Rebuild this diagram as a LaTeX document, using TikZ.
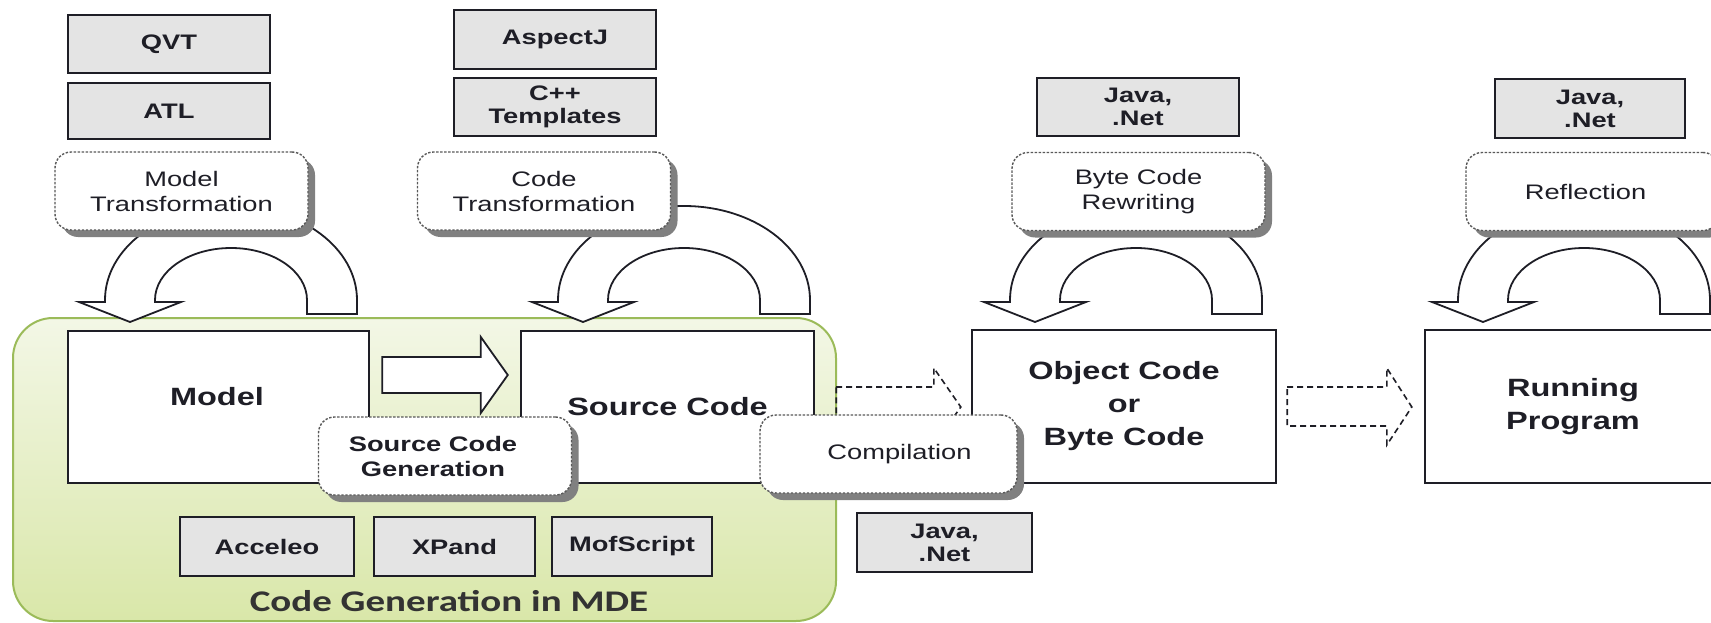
\documentclass[tikz,border=0pt]{standalone}
\usepackage{fontspec}
\setmainfont{Liberation Sans}
\newfontfamily\widesans[FakeStretch=1.3]{Liberation Sans}
\newfontfamily\widecal[FakeStretch=1.3]{Carlito}
\usetikzlibrary{calc,shadows}

\definecolor{mdetop}{HTML}{F3F7E6}
\definecolor{mdebot}{HTML}{D9E7A9}
\definecolor{mdeline}{HTML}{9BBB59}
\definecolor{toolfill}{HTML}{E4E4E4}
\definecolor{inkc}{HTML}{1E1E26}

\tikzset{
  tool/.style={draw=inkc, line width=2.2pt, fill=toolfill, inner sep=0pt, align=center,
    font=\widesans\bfseries\fontsize{21}{23}\selectfont, text=inkc},
  stage/.style={draw=inkc, line width=2.4pt, fill=white, inner sep=0pt, align=center,
    font=\widesans\bfseries\fontsize{25}{33}\selectfont, text=inkc},
  stagetext/.style={inner sep=0pt, font=\widesans\bfseries\fontsize{25}{33}\selectfont, text=inkc},
  technique/.style={rounded corners=16pt, draw=black!65, dash pattern=on 2.4pt off 1.6pt,
    line width=1.4pt, fill=white, inner sep=0pt, align=center,
    minimum width=253pt, minimum height=78pt,
    font=\widesans\fontsize{21}{25}\selectfont, text=inkc,
    drop shadow={shadow xshift=7pt, shadow yshift=-7pt, fill=black!50, opacity=1}},
  uarrow/.style={draw=inkc, line width=1.8pt, fill=white, line join=miter},
  blockarrow/.style={draw=inkc, line width=1.8pt, fill=white},
  flowarrow/.style={draw=inkc, line width=1.6pt, dash pattern=on 6pt off 4pt},
  mde/.style={rounded corners=40pt, draw=mdeline, line width=2pt,
    top color=mdetop, bottom color=mdebot, inner sep=0pt},
  uturn/.pic={
    \draw[uarrow] (126,14) -- (126,0)
      .. controls (126,-51.9) and (69.6,-94) .. (0,-94)
      .. controls (-69.6,-94) and (-126,-51.9) .. (-126,0)
      -- (-126,2) -- (-152,2) -- (-101,22) -- (-50,2) -- (-76,2) -- (-76,0)
      .. controls (-76,-28.7) and (-42,-52) .. (0,-52)
      .. controls (42,-52) and (76,-28.7) .. (76,0)
      -- (76,14) -- cycle;
  },
}

\begin{document}
\begin{tikzpicture}[x=1pt,y=-1pt]
\useasboundingbox (0,0) rectangle (1711,623);

% model-driven code generation area
\node[mde, minimum width=823pt, minimum height=303pt] (mde) at (424.5,469.5) {};
\node[anchor=base, inner sep=0pt, text=black!80,
      font=\widecal\bfseries\fontsize{30}{30}\selectfont] (mdelabel) at (449,611) {Code Generation in MDE};

% loop arrows of the transformation steps
\pic (loopmodel)  at (231,300)  {uturn};
\pic (loopsource) at (684,300)  {uturn};
\pic (loopobject) at (1136,300) {uturn};
\pic (looprun)    at (1584,300) {uturn};

% tools
\node[tool, minimum width=202pt, minimum height=58pt] (qvt)     at (169,44)     {QVT};
\node[tool, minimum width=202pt, minimum height=56pt] (atl)     at (169,111)    {ATL};
\node[tool, minimum width=202pt, minimum height=59pt] (aspectj) at (555,39.5)   {AspectJ};
\node[tool, minimum width=202pt, minimum height=58pt] (cpp)     at (555,107)    {C++\\Templates};
\node[tool, minimum width=202pt, minimum height=58pt] (javarw)  at (1138,107)   {Java,\\.Net};
\node[tool, minimum width=190pt, minimum height=59pt] (javarf)  at (1590,108.5) {Java,\\.Net};
\node[tool, minimum width=175pt, minimum height=59pt] (javacp)  at (944.5,542.5){Java,\\.Net};
\node[tool, minimum width=174pt, minimum height=59pt] (acceleo) at (267,546.5)  {Acceleo};
\node[tool, minimum width=161pt, minimum height=59pt] (xpand)   at (454.5,546.5){XPand};
\node[tool, minimum width=160pt, minimum height=59pt] (mofscript) at (632,546.5){MofScript};

% artefacts
\node[stage, minimum width=301pt, minimum height=152pt] (model)   at (218.5,407) {};
\node[stagetext] (modellabel) at (217,397) {Model};
\node[stage, minimum width=293pt, minimum height=152pt] (source)  at (667.5,407) {Source Code};
\node[stage, minimum width=304pt, minimum height=153pt] (object)  at (1124,406.5) {Object Code\\or\\Byte Code};
\node[stage, minimum width=296pt, minimum height=153pt] (running) at (1573,406.5) {Running\\Program};

% model to source code
\coordinate (gens) at ($(model.east)+(12,-32)$);
\coordinate (gent) at ($(source.west)+(-12,-32)$);
\draw[blockarrow] ($(gens)+(0,-18)$) -- ($(gent)+(-27,-18)$) -- ($(gent)+(-27,-38)$)
  -- (gent) -- ($(gent)+(-27,38)$) -- ($(gent)+(-27,18)$) -- ($(gens)+(0,18)$) -- cycle;

% source code to object code
\coordinate (cmps) at ($(source.east)+(21,0)$);
\coordinate (cmpt) at ($(object.west)+(-10,0.5)$);
\draw[flowarrow] ($(cmps)+(0,-20)$) -- ($(cmpt)+(-27,-20)$) -- ($(cmpt)+(-27,-39)$)
  -- (cmpt) -- ($(cmpt)+(-27,38)$) -- ($(cmpt)+(-27,19)$) -- ($(cmps)+(0,19)$) -- cycle;

% object code to running program
\coordinate (runs) at ($(object.east)+(10,0.5)$);
\coordinate (runt) at ($(running.west)+(-12,0.5)$);
\draw[flowarrow] ($(runs)+(0,-20)$) -- ($(runt)+(-25,-20)$) -- ($(runt)+(-25,-39)$)
  -- (runt) -- ($(runt)+(-25,38)$) -- ($(runt)+(-25,19)$) -- ($(runs)+(0,19)$) -- cycle;

% transformation techniques
\node[technique] (modeltr) at (181.5,191)  {Model\\Transformation};
\node[technique] (codetr)  at (544,191)    {Code\\Transformation};
\node[technique] (bytecode) at (1138.5,191.5) {Byte Code\\Rewriting};
\node[technique] (reflect) at (1592.5,191.5) {\hspace*{-14pt}Reflection};
\node[technique, font=\widesans\bfseries\fontsize{21}{25}\selectfont] (scgen) at (445,456)
  {\hspace*{-24pt}Source Code\\\hspace*{-24pt}Generation};
\node[technique, minimum width=257pt] (compile) at (888.5,454) {\hspace*{22pt}Compilation};
\end{tikzpicture}
\end{document}
